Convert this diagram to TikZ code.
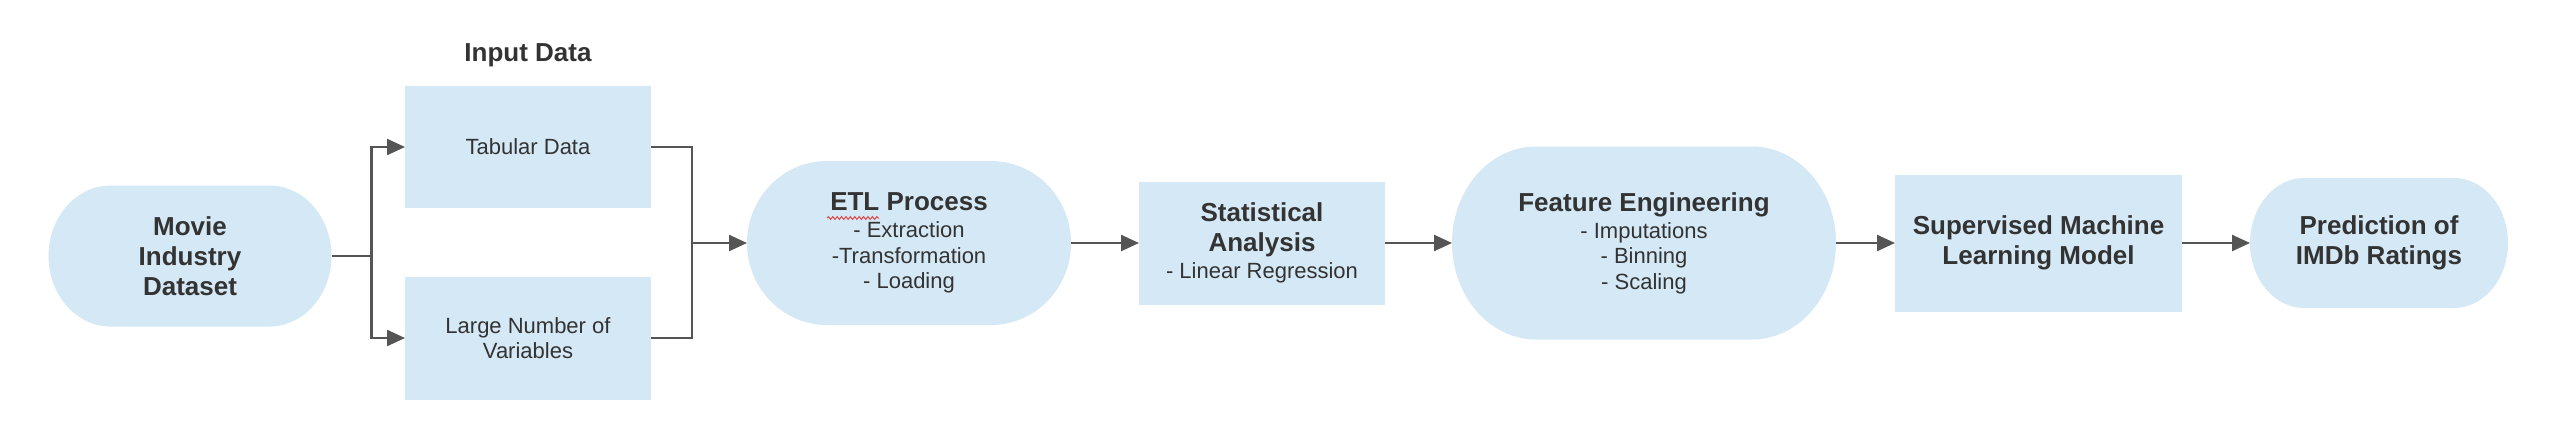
\documentclass[tikz,border=0pt]{standalone}
\usepackage{fontspec}
\setmainfont{Liberation Sans}
\usetikzlibrary{arrows.meta,positioning,backgrounds,calc,decorations.pathmorphing}
\definecolor{boxblue}{HTML}{D4E8F5}
\definecolor{inkgray}{HTML}{333333}
\definecolor{wiregray}{HTML}{555555}
\definecolor{spellred}{HTML}{E04848}

\tikzset{
  box/.style={fill=boxblue,text=inkgray,align=center,inner sep=2pt,outer sep=0pt,font=\fontsize{11}{12.75}\selectfont},
  pill/.style={box,fill=none},
  heavy/.style={font=\fontsize{13}{15}\selectfont\bfseries},
  flow/.style={draw=wiregray,line width=1.2pt},
  arrow/.style={flow,-{Triangle[length=9pt,width=8pt]}},
}
\newcommand{\hd}[1]{{\fontsize{13}{15}\selectfont\bfseries #1}}

\begin{document}
\begin{tikzpicture}[x=1pt,y=1pt]
    \useasboundingbox (0,0) rectangle (1276,218);
    % source and input data
    \node[pill,heavy,minimum width=141.5pt,minimum height=70.5pt] (movie) at (95,90) {Movie\\Industry\\Dataset};
    \node[box,minimum width=123pt,minimum height=61pt] (tabular) at (264,144.5) {Tabular Data};
    \node[box,minimum width=123pt,minimum height=61.5pt] (vars) at (264,49) {Large Number of\\Variables};
    \node[anchor=base,text=inkgray,heavy] (input) at ([yshift=12.5pt]tabular.north) {Input Data};
    % processing chain
    \node[pill,minimum width=162pt,minimum height=82pt] (etl) at (454.5,96.5) {\hd{ETL Process}\\[0.75pt]- Extraction\\-Transformation\\- Loading};
    \node[box,minimum width=123pt,minimum height=61.5pt,right=34pt of etl] (stats) {\hd{Statistical}\\[2.25pt]\hd{Analysis}\\[0.75pt]- Linear Regression};
    \node[pill,minimum width=192pt,minimum height=96.5pt,right=33.5pt of stats] (feat) {\hd{Feature Engineering}\\[0.75pt]- Imputations\\- Binning\\- Scaling};
    \node[box,heavy,minimum width=143.5pt,minimum height=68.5pt,right=29.5pt of feat] (model) {Supervised Machine\\Learning Model};
    \node[pill,heavy,minimum width=129pt,minimum height=65pt,right=34pt of model] (pred) {Prediction of\\IMDb Ratings};
    % rounded fills behind the terminal nodes
    \begin{scope}[on background layer]
        \foreach \nm/\rx in {movie/31,etl/40,feat/42,pred/27}
            \fill[boxblue] let \p1=(\nm.north), \p2=(\nm.south), \n1={0.5*(\y1-\y2)} in
                ([xshift=\rx pt]\nm.north west) -- ([xshift=-\rx pt]\nm.north east)
                arc[start angle=90,end angle=-90,x radius=\rx pt,y radius=\n1]
                -- ([xshift=\rx pt]\nm.south west)
                arc[start angle=270,end angle=90,x radius=\rx pt,y radius=\n1] -- cycle;
    \end{scope}
    \draw[spellred,line width=0.5pt,decorate,decoration={snake,amplitude=0.7pt,segment length=2.2pt}]
        ([shift={(-41pt,12.5pt)}]etl.center) -- ([shift={(-15pt,12.5pt)}]etl.center);
    % connectors
    \draw[flow] (movie.east) -- ++(20pt,0) coordinate (split);
    \draw[arrow] (split) |- (tabular.west);
    \draw[arrow] (split) |- (vars.west);
    \coordinate (merge) at ([xshift=-27.5pt]etl.west);
    \draw[flow] (tabular.east) -| (merge);
    \draw[flow] (vars.east) -| (merge);
    \draw[arrow] (merge) -- (etl.west);
    \draw[arrow] (etl) -- (stats);
    \draw[arrow] (stats) -- (feat);
    \draw[arrow] (feat) -- (model);
    \draw[arrow] (model) -- (pred);
\end{tikzpicture}
\end{document}
